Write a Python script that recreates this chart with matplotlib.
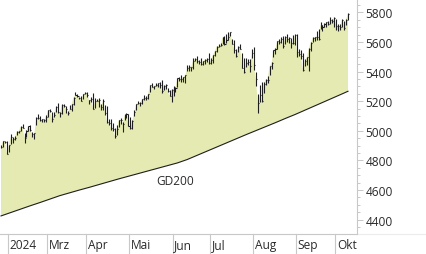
import matplotlib
matplotlib.use("Agg")
import matplotlib.pyplot as plt
import numpy as np
import pandas as pd
from matplotlib.ticker import MultipleLocator
from matplotlib.transforms import blended_transform_factory

# S&P 500 daily bars, 26.01.2024 - 09.10.2024 (high / low / close)
high = [4906.7, 4929.3, 4931.1, 4931.1, 4906.8, 4975.3, 4957.2, 4963.4, 4999.9, 5000.4,
        5030.1, 5048.4, 4982.4, 5002.5, 5032.7, 5038.7, 4993.7, 4983.2, 5094.4, 5111.1,
        5097.7, 5080.7, 5077.4, 5105.0, 5140.3, 5149.7, 5128.0, 5127.6, 5165.6, 5189.3,
        5124.7, 5179.1, 5179.9, 5169.7, 5136.9, 5175.6, 5180.3, 5226.2, 5261.1, 5246.1,
        5229.1, 5235.2, 5249.3, 5264.9, 5264.0, 5208.3, 5228.8, 5256.6, 5222.2, 5213.4,
        5224.8, 5178.4, 5211.8, 5175.0, 5168.4, 5076.9, 5078.0, 5049.3, 5019.0, 5038.8,
        5076.1, 5089.5, 5057.8, 5114.6, 5123.5, 5110.8, 5096.1, 5073.2, 5139.1, 5181.0,
        5200.2, 5192.0, 5215.3, 5239.7, 5237.3, 5250.4, 5311.8, 5325.5, 5305.5, 5325.3,
        5324.3, 5329.3, 5341.9, 5311.7, 5315.9, 5288.3, 5276.4, 5280.3, 5302.1, 5298.8,
        5354.2, 5362.4, 5375.1, 5365.8, 5376.0, 5441.9, 5447.3, 5432.4, 5488.5, 5490.4,
        5505.5, 5478.3, 5490.8, 5472.9, 5483.1, 5490.7, 5523.6, 5490.8, 5509.7, 5539.3,
        5570.3, 5583.1, 5590.8, 5635.4, 5642.5, 5655.6, 5666.9, 5669.7, 5622.5, 5614.1,
        5555.5, 5570.4, 5585.3, 5523.0, 5491.6, 5488.7, 5487.7, 5487.7, 5551.4, 5566.2,
        5395.8, 5250.9, 5312.3, 5330.6, 5328.0, 5351.9, 5371.2, 5436.5, 5463.2, 5546.2,
        5562.0, 5608.3, 5620.5, 5632.7, 5643.2, 5641.8, 5651.6, 5631.2, 5627.0, 5647.0,
        5651.4, 5651.4, 5553.0, 5546.3, 5522.5, 5484.2, 5497.9, 5560.4, 5600.7, 5636.3,
        5636.1, 5670.8, 5689.8, 5733.6, 5715.1, 5725.4, 5735.3, 5741.0, 5767.4, 5754.0,
        5765.1, 5757.6, 5720.1, 5718.8, 5753.2, 5739.3, 5757.6, 5796.8]
low = [4881.5, 4887.4, 4916.3, 4845.2, 4853.5, 4908.0, 4918.1, 4934.9, 4969.1, 4987.1,
       4999.5, 5016.8, 4920.3, 4956.5, 4999.4, 4999.5, 4955.0, 4946.0, 5038.8, 5081.5,
       5068.9, 5057.3, 5058.4, 5061.9, 5094.2, 5127.2, 5056.3, 5091.1, 5128.2, 5117.5,
       5091.1, 5114.5, 5160.2, 5120.9, 5104.4, 5145.5, 5131.6, 5171.6, 5240.7, 5229.9,
       5216.1, 5203.4, 5213.9, 5245.8, 5229.2, 5184.1, 5194.4, 5146.1, 5157.2, 5199.2,
       5160.8, 5138.7, 5138.8, 5107.9, 5052.5, 5039.9, 5007.3, 5001.9, 4953.6, 4969.4,
       5028.0, 5047.0, 4990.6, 5073.1, 5088.7, 5035.3, 5013.5, 5011.1, 5101.2, 5142.7,
       5179.0, 5165.9, 5180.4, 5209.7, 5211.2, 5218.0, 5264.0, 5296.2, 5283.6, 5302.4,
       5297.9, 5286.0, 5256.9, 5278.4, 5280.9, 5264.4, 5234.3, 5191.7, 5234.3, 5265.0,
       5297.6, 5335.4, 5331.3, 5331.5, 5324.3, 5402.5, 5403.9, 5403.8, 5420.4, 5471.3,
       5455.6, 5452.0, 5447.6, 5446.6, 5451.9, 5467.5, 5451.1, 5451.3, 5458.4, 5507.4,
       5531.6, 5562.5, 5574.6, 5586.4, 5576.5, 5590.4, 5614.8, 5639.0, 5584.8, 5522.8,
       5497.0, 5529.0, 5550.9, 5424.2, 5391.0, 5430.7, 5444.4, 5398.1, 5493.7, 5410.4,
       5302.8, 5119.3, 5193.6, 5195.5, 5257.9, 5306.9, 5324.4, 5378.0, 5415.4, 5501.1,
       5521.9, 5550.7, 5585.5, 5591.6, 5561.0, 5585.2, 5602.3, 5593.5, 5560.2, 5583.7,
       5581.3, 5501.5, 5503.0, 5485.7, 5402.6, 5434.5, 5441.7, 5407.0, 5535.5, 5601.7,
       5604.5, 5614.1, 5615.1, 5686.4, 5674.5, 5704.2, 5699.0, 5712.1, 5721.0, 5730.5,
       5703.5, 5681.3, 5674.0, 5677.4, 5702.8, 5683.3, 5714.9, 5745.0]
close = [4891.0, 4927.9, 4925.0, 4845.7, 4906.2, 4958.6, 4942.8, 4954.2, 4995.1, 4997.9,
         5026.6, 5021.8, 4953.2, 5000.6, 5029.7, 5005.6, 4975.5, 4981.8, 5087.0, 5088.8,
         5069.5, 5078.2, 5069.8, 5096.3, 5137.1, 5131.0, 5078.7, 5104.8, 5157.4, 5123.7,
         5117.9, 5175.3, 5165.3, 5150.5, 5117.1, 5149.4, 5178.5, 5224.6, 5241.5, 5234.2,
         5218.2, 5203.6, 5248.5, 5254.4, 5243.8, 5205.8, 5211.5, 5147.2, 5204.3, 5202.4,
         5209.9, 5160.6, 5199.1, 5123.4, 5061.8, 5051.4, 5022.2, 5011.1, 4967.2, 5010.6,
         5070.6, 5071.6, 5048.4, 5100.0, 5116.2, 5035.7, 5018.4, 5064.2, 5127.8, 5180.7,
         5187.7, 5187.7, 5214.1, 5222.7, 5221.4, 5246.7, 5308.2, 5297.1, 5303.3, 5308.1,
         5321.4, 5307.0, 5267.8, 5304.7, 5306.0, 5267.0, 5235.5, 5277.5, 5283.4, 5291.3,
         5354.0, 5353.0, 5347.0, 5360.8, 5375.3, 5421.0, 5433.7, 5431.6, 5473.2, 5487.0,
         5473.2, 5464.6, 5447.9, 5469.3, 5477.9, 5482.9, 5460.5, 5475.1, 5509.0, 5537.0,
         5567.2, 5572.9, 5577.0, 5633.9, 5584.5, 5615.4, 5631.2, 5667.2, 5588.3, 5544.6,
         5505.0, 5564.4, 5555.7, 5427.1, 5399.2, 5459.1, 5463.5, 5436.4, 5522.3, 5446.7,
         5346.6, 5186.3, 5240.0, 5199.5, 5319.3, 5344.2, 5344.4, 5434.4, 5455.2, 5543.2,
         5554.3, 5608.3, 5597.1, 5620.9, 5570.6, 5634.6, 5616.8, 5625.8, 5592.2, 5592.0,
         5648.4, 5528.9, 5520.1, 5503.4, 5408.4, 5471.1, 5495.5, 5554.1, 5595.8, 5626.0,
         5633.1, 5634.6, 5618.3, 5713.6, 5702.6, 5718.6, 5732.9, 5722.3, 5745.4, 5738.2,
         5762.5, 5708.8, 5709.5, 5699.9, 5751.1, 5695.9, 5751.1, 5792.0]

gd200_idx = list(range(0, 178, 5)) + [177]
gd200 = [4425, 4448, 4471, 4494, 4516, 4539, 4562, 4581, 4600, 4618,
         4637, 4656, 4675, 4693, 4711, 4729, 4747, 4765, 4783, 4806,
         4834, 4862, 4890, 4918, 4946, 4974, 5001, 5028, 5055, 5083,
         5110, 5139, 5168, 5197, 5226, 5255, 5267]

month_labels = ["2024", "Mrz", "Apr", "Mai", "Jun", "Jul", "Aug", "Sep", "Okt"]

# Handelstage (US-Feiertage raus)
holidays = ["2024-02-19", "2024-03-29", "2024-05-27", "2024-06-19", "2024-07-04", "2024-09-02"]
dates = pd.bdate_range("2024-01-26", "2024-10-09", freq="C", holidays=holidays)
x = np.arange(len(dates))
month_starts = [i for i in range(1, len(dates)) if dates[i].month != dates[i - 1].month]

FILL = "#e5eab2"
BAR = "#1e1e1e"
GRID = "#c8c8c8"
TXT = "#2a2a2a"
plt.rcParams["font.family"] = ["Open Sans", "DejaVu Sans"]

fig = plt.figure(figsize=(4.26, 2.55), dpi=100)
ax = fig.add_axes([0, 20 / 255, 357 / 426, 235 / 255])

# Fläche zwischen Kurs und GD200
ax.fill(np.r_[x, np.array(gd200_idx)[::-1]], np.r_[close, np.array(gd200)[::-1]],
        color=FILL, lw=0, zorder=1)
ax.plot(gd200_idx, gd200, color=BAR, lw=0.8, zorder=2)

# Bars (high-low + close tick)
ax.vlines(x, low, high, color=BAR, lw=0.8, zorder=3)
ax.hlines(close, x, x + 0.55, color=BAR, lw=0.8, zorder=3)

ax.text(89, 4661, "GD200", fontsize=8.6, color=TXT, ha="center", va="center")

ax.set_xlim(-0.51, 181.6)
ax.set_ylim(4303, 5890)

for s in ["top", "left"]:
    ax.spines[s].set_visible(False)
ax.spines["right"].set_color(GRID)
ax.spines["bottom"].set_color(GRID)
ax.yaxis.tick_right()
ax.yaxis.set_major_locator(MultipleLocator(200))
ax.yaxis.set_minor_locator(MultipleLocator(50))
ax.tick_params(axis="y", which="major", length=4.3, width=0.7, color=GRID,
               labelsize=8.6, labelcolor=TXT, pad=2)
ax.tick_params(axis="y", which="minor", length=2.2, width=0.7, color=GRID)
ax.set_xticks([])

# Monatsachse unten
tr = blended_transform_factory(ax.transData, ax.transAxes)
for m, lab in zip(month_starts, month_labels):
    ax.plot([m - 0.5, m - 0.5], [0, -0.09], color=GRID, lw=0.8, transform=tr, clip_on=False)
    ax.text(m + 0.4, -0.045, lab, fontsize=8.6, color=TXT, ha="left", va="center",
            transform=tr, clip_on=False)
# schwache Verlängerung der Grundlinie rechts
ax.plot([1, 1.2], [0, 0], color="#ececec", lw=0.8, transform=ax.transAxes, clip_on=False)

fig.savefig("out.png", dpi=100, facecolor="white")
